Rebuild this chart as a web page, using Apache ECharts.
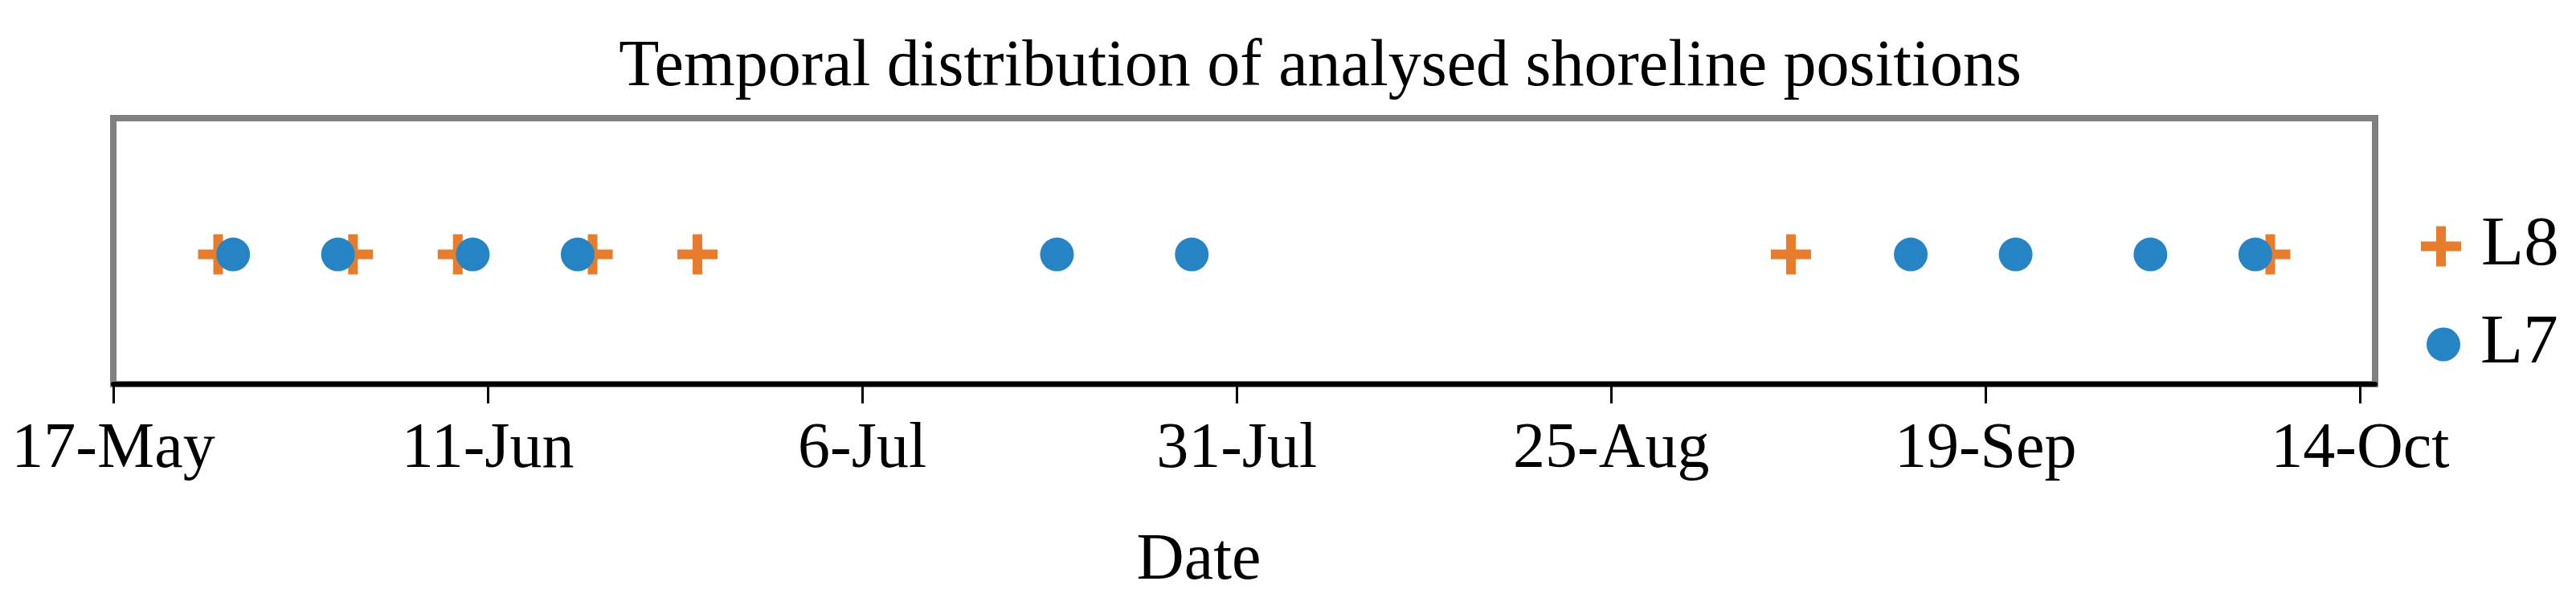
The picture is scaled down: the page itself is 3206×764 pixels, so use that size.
<!DOCTYPE html>
<html>
<head>
<meta charset="utf-8">
<title>Temporal distribution of analysed shoreline positions</title>
<script src="https://cdn.jsdelivr.net/npm/echarts@6/dist/echarts.min.js"></script>
<style>
  html, body { margin: 0; padding: 0; background: #fff; }
  #chart { width: 3206px; height: 764px; }
</style>
</head>
<body>
<div id="chart"></div>
<script>
// axis start and tick positions (days after start)
const startDate = "2014-05-17";
const tickDays = [0, 25, 50, 75, 100, 125, 150];

// acquisition dates per sensor
const l8Dates = ["2014-05-24", "2014-06-02", "2014-06-09", "2014-06-18", "2014-06-25", "2014-09-06", "2014-10-08"];
const l7Dates = ["2014-05-25", "2014-06-01", "2014-06-10", "2014-06-17", "2014-07-19", "2014-07-28",
  "2014-09-14", "2014-09-21", "2014-09-30", "2014-10-07"];

const months = ["Jan", "Feb", "Mar", "Apr", "May", "Jun", "Jul", "Aug", "Sep", "Oct", "Nov", "Dec"];
const DAY = 86400000;
const t0 = Date.parse(startDate);

// day offset from start date
function toDay(s) {
  return Math.round((Date.parse(s) - t0) / DAY);
}

// day offset -> "17-May"
function dayLabel(v) {
  const d = new Date(t0 + v * DAY);
  return d.getUTCDate() + "-" + months[d.getUTCMonth()];
}

const font = "'Liberation Serif', 'Times New Roman', serif";
const plus = "path://M19,0H31V19H50V31H31V50H19V31H0V19H19Z";

const chart = echarts.init(document.getElementById("chart"));

let option = {
  animation: false,
  backgroundColor: "#fff",
  title: [
    {
      text: "Temporal distribution of analysed shoreline positions",
      left: 1638,
      top: 38,
      textAlign: "center",
      textStyle: { fontFamily: font, fontSize: 82, fontWeight: "normal", color: "#000" },
    },
    {
      text: "Date",
      left: 1487,
      top: 652,
      textAlign: "center",
      textStyle: { fontFamily: font, fontSize: 82, fontWeight: "normal", color: "#000" },
    }
  ],
  legend: [
    {
      data: ["L8"],
      orient: "vertical",
      left: 3008,
      top: 258,
      itemWidth: 50,
      itemHeight: 50,
      textStyle: { fontFamily: font, fontSize: 87, color: "#000", padding: [0, 0, 0, 20] },
    },
    {
      data: ["L7"],
      orient: "vertical",
      left: 3015,
      top: 380,
      itemWidth: 42,
      itemHeight: 42,
      textStyle: { fontFamily: font, fontSize: 87, color: "#000", padding: [0, 0, 0, 20] },
    }
  ],
  grid: {
    left: 141,
    right: 250,
    top: 147,
    bottom: 286,
    show: true,
    borderColor: "#808080",
    borderWidth: 8,
    backgroundColor: "#fff",
  },
  xAxis: {
    type: "value",
    min: 0,
    max: 151,
    splitLine: { show: false },
    axisLine: { show: true, onZero: false, lineStyle: { color: "#000", width: 6 } },
    axisTick: { show: true, customValues: tickDays, length: 24, lineStyle: { color: "#000", width: 3 } },
    axisLabel: {
      customValues: tickDays,
      formatter: dayLabel,
      margin: 42,
      fontFamily: font,
      fontSize: 80,
      color: "#000",
    },
  },
  yAxis: {
    type: "value",
    min: 0,
    max: 2.05,
    show: false,
    splitLine: { show: false },
  },
  series: [
    {
      name: "L8",
      type: "scatter",
      symbol: plus,
      symbolSize: 50,
      itemStyle: { color: "#E67C2C", opacity: 1 },
      data: l8Dates.map((s) => [toDay(s), 1]),
    },
    {
      name: "L7",
      type: "scatter",
      symbol: "circle",
      symbolSize: 42,
      itemStyle: { color: "#2684C4", opacity: 1 },
      data: l7Dates.map((s) => [toDay(s), 1]),
    }
  ],
};

chart.setOption(option);
</script>
</body>
</html>
